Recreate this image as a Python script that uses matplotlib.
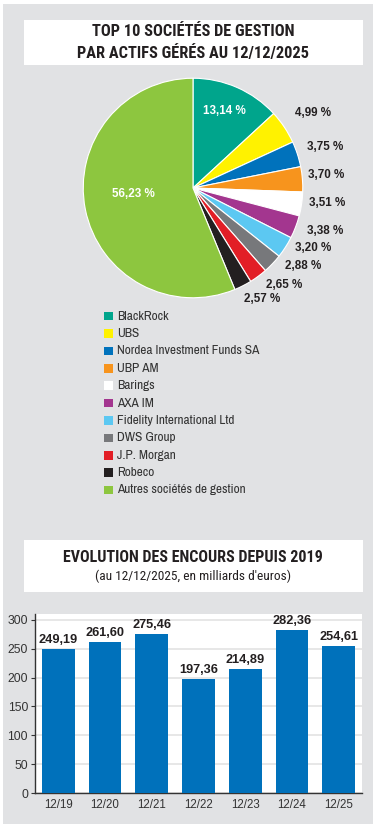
import matplotlib
matplotlib.use("Agg")
import matplotlib.pyplot as plt
from matplotlib.patches import Rectangle
import numpy as np

# ---------------- data ----------------
companies = ["BlackRock", "UBS", "Nordea Investment Funds SA", "UBP AM", "Barings",
             "AXA IM", "Fidelity International Ltd", "DWS Group", "J.P. Morgan",
             "Robeco", "Autres sociétés de gestion"]
shares = [13.14, 4.99, 3.75, 3.70, 3.51, 3.38, 3.20, 2.88, 2.65, 2.57, 56.23]
share_labels = ["13,14 %", "4,99 %", "3,75 %", "3,70 %", "3,51 %", "3,38 %",
                "3,20 %", "2,88 %", "2,65 %", "2,57 %", "56,23 %"]

years = ["12/19", "12/20", "12/21", "12/22", "12/23", "12/24", "12/25"]
encours = [249.19, 261.60, 275.46, 197.36, 214.89, 282.36, 254.61]
encours_labels = ["249,19", "261,60", "275,46", "197,36", "214,89", "282,36", "254,61"]
yticks = [0, 50, 100, 150, 200, 250, 300]

# ---------------- styles ----------------
pie_colors = ["#00a58c", "#fff200", "#0072bc", "#f7941d", "#ffffff", "#a3368f",
              "#5cc8f2", "#77787b", "#e21e26", "#231f20", "#8dc63f"]
bar_color = "#0071bb"
bg = "#e1e2e4"
dark = "#231f20"
txt = "#333333"
TITLE = ["Roboto Condensed", "DejaVu Sans"]
COND = ["Archivo Narrow", "DejaVu Sans"]
SANS = ["Liberation Sans", "DejaVu Sans"]

W, H = 377, 824
fig = plt.figure(figsize=(W / 100, H / 100), dpi=100)
fig.patch.set_facecolor("white")

def fx(px):
    return px / W

def fy(py):
    return 1 - py / H

# gray panel
fig.patches.append(Rectangle((fx(3), fy(824)), fx(370), 820 / H, transform=fig.transFigure,
                             facecolor=bg, edgecolor="none", zorder=-2))
# title boxes
for (y0, y1) in [(20, 65), (540, 592)]:
    fig.patches.append(Rectangle((fx(24), fy(y1)), fx(339), (y1 - y0) / H,
                                 transform=fig.transFigure, facecolor="white",
                                 edgecolor="none", zorder=-1))

fig.text(fx(193), fy(31), "TOP 10 SOCIÉTÉS DE GESTION", ha="center", va="center",
         family=TITLE, weight="bold", fontsize=11.8, color=dark)
fig.text(fx(193), fy(53), "PAR ACTIFS GÉRÉS AU 12/12/2025", ha="center", va="center",
         family=TITLE, weight="bold", fontsize=11.8, color=dark)

# ---------------- pie ----------------
cx, cy, half = 193, 188, 140
axp = fig.add_axes([fx(cx - half), fy(cy + half), 2 * half / W, 2 * half / H])
axp.set_zorder(5)
axp.patch.set_alpha(0)
axp.set_xlim(-1.4, 1.4)
axp.set_ylim(-1.4, 1.4)
axp.set_aspect("equal")
axp.axis("off")
wedges, _ = axp.pie(shares, colors=pie_colors, startangle=90, counterclock=False,
                    radius=0.98, wedgeprops=dict(edgecolor="white", linewidth=0.8))

# label centres (pixels)
label_px = [(221, 119), (300, 121), (311, 151), (312, 176), (313, 201), (311, 226),
            (300, 242), (291, 258), (274, 275), (255, 287), (140, 193)]
for i, (lab, (px, py)) in enumerate(zip(share_labels, label_px)):
    inside = i in (0, len(shares) - 1)
    axp.text((px - cx) / 100, (cy - py) / 100, lab, ha="center", va="center",
             family=SANS, weight="bold", fontsize=8.4,
             color="white" if inside else dark)

# legend
for i, (name, col) in enumerate(zip(companies, pie_colors)):
    y = 316 + i * 17.4
    fig.patches.append(Rectangle((fx(104), fy(y + 4.3)), fx(8.5), 8.5 / H,
                                 transform=fig.transFigure, facecolor=col,
                                 edgecolor="none", zorder=2))
    fig.text(fx(117), fy(y), name, ha="left", va="center", family=COND,
             fontsize=9.6, color=txt)

# ---------------- bars ----------------
fig.text(fx(193), fy(558), "EVOLUTION DES ENCOURS DEPUIS 2019", ha="center", va="center",
         family=TITLE, weight="bold", fontsize=11.5, color=dark)
fig.text(fx(193), fy(576.5), "(au 12/12/2025, en milliards d'euros)", ha="center",
         va="center", family=TITLE, fontsize=9.6, color=dark)

axb = fig.add_axes([fx(35), fy(793), 327 / W, 179 / H])
axb.set_zorder(5)
axb.set_facecolor("white")
x = np.arange(len(years))
axb.bar(x, encours, width=0.7, color=bar_color, zorder=3)
for xi, v, lab in zip(x, encours, encours_labels):
    axb.text(xi, v + 5, lab, ha="center", va="bottom", family=SANS, weight="bold",
             fontsize=9.2, color=dark, zorder=4)
axb.set_xlim(-0.5, len(years) - 0.5)
axb.set_ylim(0, 310)
axb.set_yticks(yticks)
axb.set_yticklabels([str(t) for t in yticks], family=SANS, fontsize=8.8, color=txt)
axb.set_xticks(x)
axb.set_xticklabels(years, family=SANS, fontsize=8.3, color=txt)
axb.yaxis.grid(True, color="#e3e3e3", linewidth=1.2, zorder=0)
axb.set_axisbelow(True)
for s in ["top", "right"]:
    axb.spines[s].set_visible(False)
axb.spines["left"].set_color("#333333")
axb.spines["bottom"].set_color("#333333")
axb.spines["left"].set_linewidth(1.0)
axb.spines["bottom"].set_linewidth(1.0)
axb.tick_params(axis="y", length=3, width=0.8, color="#333333", pad=2)
axb.tick_params(axis="x", length=0, pad=4)

fig.savefig("out.png", dpi=100, facecolor=fig.get_facecolor())
